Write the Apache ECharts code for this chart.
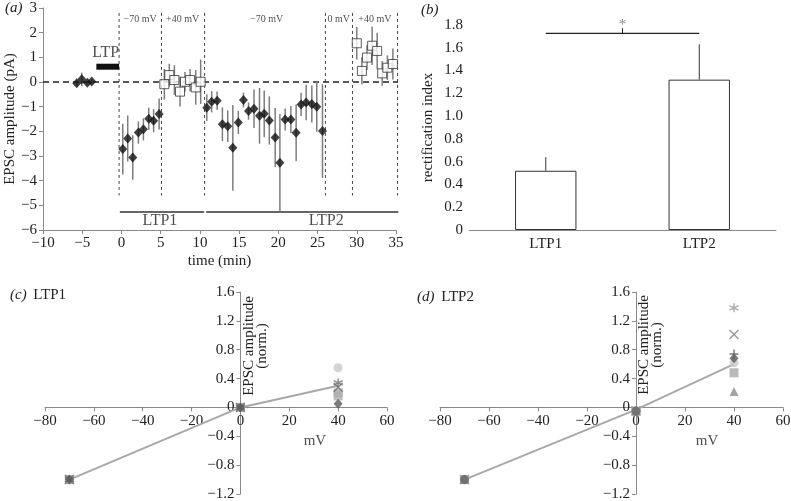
<!DOCTYPE html>
<html><head><meta charset="utf-8">
<script src="https://cdn.jsdelivr.net/npm/echarts@6/dist/echarts.min.js"></script>
<style>html,body{margin:0;padding:0;background:#fff}#c{width:791px;height:501px}</style>
</head><body><div id="c"></div>
<script>
// ---------- Panel (a) data ----------
const baseT = [-5.7, -5.06, -4.35, -3.79];
const baseV = [-0.05, 0.11, -0.03, 0.02];
const baseE = [0.12, 0.27, 0.08, 0.08];
const ltp1NegT = [0.17, 0.8, 1.44, 2.16, 2.8, 3.48, 4.1, 4.8];
const ltp1NegV = [-2.72, -2.29, -3.06, -2.05, -1.92, -1.49, -1.57, -1.30];
const ltp1NegE = [1.03, 0.93, 0.9, 0.45, 0.45, 0.45, 0.47, 0.63];
const ltp1PosT = [5.47, 6.1, 6.75, 7.47, 8.1, 8.75, 9.47, 10.1];
const ltp1PosV = [-0.09, 0.28, 0.08, -0.39, 0.01, 0.08, -0.22, 0.01];
const ltp1PosE = [0.62, 0.46, 0.6, 0.6, 0.4, 0.45, 0.7, 0.9];
const ltp2NegT = [10.88, 11.5, 12.2, 12.87, 13.55, 14.2, 14.9, 15.55, 16.2, 16.9, 17.6, 18.2, 18.85, 19.6, 20.2, 20.87, 21.6, 22.27, 22.9, 23.55, 24.27, 24.9, 25.63];
const ltp2NegV = [-1.04, -0.80, -0.76, -1.71, -1.79, -2.67, -1.64, -0.73, -1.18, -1.08, -1.37, -1.29, -1.56, -2.25, -3.27, -1.52, -1.52, -2.06, -0.91, -0.83, -0.89, -1.0, -1.99];
const ltp2NegE = [0.54, 0.43, 0.37, 0.68, 0.64, 1.74, 0.47, 0.3, 0.35, 0.78, 1.13, 0.95, 0.98, 1.2, 1.97, 0.45, 0.55, 1.15, 0.47, 0.72, 0.75, 1.02, 1.9];
const ltp2PosT = [30.0, 30.65, 31.3, 31.96, 32.6, 33.24, 33.9, 34.6];
const ltp2PosV = [1.57, 0.45, 0.99, 1.47, 1.26, 0.35, 0.58, 0.73];
const ltp2PosE = [0.66, 0.55, 0.5, 0.78, 0.74, 0.5, 0.5, 0.63];
const phaseBounds = [-0.3, 5.1, 10.6, 26.0, 29.45, 35.2];
const phaseSpan = [2.8, -4.6];
const phaseLabels = [[2.4, 2.55, '−70 mV'], [7.8, 2.55, '+40 mV'], [18.5, 2.55, '−70 mV'], [27.7, 2.55, '0 mV'], [32.3, 2.55, '+40 mV']];
const zeroLineRange = [-10, 36.8];
const ltpBar = [-3.2, -0.3, 0.62];
const ltpPeriods = [[-0.2, 10.55, -5.27, 'LTP1', 4.9], [10.8, 35.3, -5.27, 'LTP2', 26.1]];
const aXTicks = {min: -10, max: 35, interval: 5};
const aYTicks = {min: -6, max: 3, interval: 1};

// ---------- Panel (b) data ----------
const bCats = ['LTP1', 'LTP2'];
const bVals = [0.52, 1.32];
const bErr = [0.12, 0.31];
const bSig = [1.727, 0.045];
const bYTicks = {min: 0, max: 1.8, interval: 0.2};

// ---------- Panels (c),(d) data ----------
const mvX = [-70, 0, 40];
const cMean = [-1.0, 0.0, 0.30];
const dMean = [-1.0, -0.03, 0.60];
const cCells = [
  {sym: 'circle', col: '#c8c8c8', v: [-1.0, 0.0, 0.55]},
  {sym: 'rect', col: '#a8a8a8', v: [-1.0, 0.0, 0.20]},
  {sym: 'rect', col: '#b0b0b0', v: [-1.0, 0.0, 0.16]},
  {sym: 'aster', col: '#6a6a6a', v: [-1.0, 0.0, 0.34]},
  {sym: 'x', col: '#707070', v: [-1.0, 0.0, 0.28]},
  {sym: 'diamond', col: '#5a5a5a', v: [-1.0, 0.0, 0.05]}
];
const dCells = [
  {sym: 'aster', col: '#9a9a9a', v: [-1.0, -0.05, 1.38]},
  {sym: 'x', col: '#808080', v: [-1.0, -0.05, 1.01]},
  {sym: 'plus', col: '#5a5a5a', v: [-1.0, -0.05, 0.74]},
  {sym: 'circle', col: '#c8c8c8', v: [-1.0, -0.05, 0.62]},
  {sym: 'diamond', col: '#5a5a5a', v: [-1.0, -0.05, 0.68]},
  {sym: 'rect', col: '#a8a8a8', v: [-1.0, -0.05, 0.48]},
  {sym: 'triangle', col: '#8c8c8c', v: [-1.0, -0.05, 0.22]},
  {sym: 'circle', col: '#6a6a6a', v: [-1.0, -0.05, null]}
];
const ivX = {min: -80, max: 60, interval: 20};
const ivY = {min: -1.2, max: 1.6, interval: 0.4};

// ---------- helpers ----------
const FF = '"Liberation Serif", "Times New Roman", serif';
const TXT = '#222';
const AX = '#8a8a8a';
const minus = s => String(s).replace('-', '−');
const fmtInt = v => minus(v);
const fmt1 = v => (Math.abs(v) < 1e-9 ? '0' : minus(v.toFixed(1)));
const zip3 = (a, b, c) => a.map((x, i) => [x, b[i], c[i]]);
const symPaths = {
  x: 'path://M0,0L10,10M10,0L0,10',
  aster: 'path://M5,0L5,10M0.7,2.5L9.3,7.5M9.3,2.5L0.7,7.5',
  plus: 'path://M5,0L5,10M1,5L9,5'
};

const grids = [
  {left: 43, top: 8, width: 353, height: 222},
  {left: 469, top: 25, width: 307, height: 205},
  {left: 45, top: 292, width: 342, height: 202},
  {left: 440, top: 292, width: 343, height: 202}
];
grids.forEach(g => { g.outerBoundsMode = 'none'; g.containLabel = false; });

function errRender(params, api) {
  const x = api.value(0), y = api.value(1), e = api.value(2);
  const p1 = api.coord([x, y + e]), p2 = api.coord([x, y - e]);
  return {type: 'line', shape: {x1: p1[0], y1: p1[1], x2: p2[0], y2: p2[1]},
          style: {stroke: '#7d7d7d', lineWidth: 1.5}};
}

const chart = echarts.init(document.getElementById('c'), null, {renderer: 'canvas'});

function valueAxis(gi, t, fmt, extra) {
  return Object.assign({
    gridIndex: gi, type: 'value', min: t.min, max: t.max, interval: t.interval,
    splitLine: {show: false},
    axisLine: {onZero: false, lineStyle: {color: AX, width: 1}},
    axisTick: {lineStyle: {color: AX}, length: 4},
    axisLabel: {formatter: fmt, color: TXT, fontFamily: FF, fontSize: 15, margin: 6},
    nameTextStyle: {color: TXT, fontFamily: FF, fontSize: 15}
  }, extra || {});
}

const series = [];
// ---- Panel (a)
series.push({type: 'line', xAxisIndex: 0, yAxisIndex: 0, data: [[zeroLineRange[0], 0], [zeroLineRange[1], 0]],
  symbol: 'none', clip: false, silent: true, z: 1, lineStyle: {type: [6, 4], color: '#222', width: 1.3}});
series.push({type: 'custom', xAxisIndex: 0, yAxisIndex: 0, silent: true, z: 1,
  data: phaseBounds.map(t => [t, phaseSpan[0], phaseSpan[1]]),
  encode: {x: 0, y: 1},
  renderItem: (p, api) => {
    const a = api.coord([api.value(0), api.value(1)]), b = api.coord([api.value(0), api.value(2)]);
    return {type: 'line', shape: {x1: a[0], y1: a[1], x2: b[0], y2: b[1]}, style: {stroke: '#444', lineWidth: 1, lineDash: [3, 3]}};
  }});
series.push({type: 'scatter', xAxisIndex: 0, yAxisIndex: 0, silent: true, symbolSize: 0,
  data: phaseLabels,
  label: {show: true, position: 'inside', formatter: p => p.data[2], color: TXT, fontFamily: FF, fontSize: 10}});
series.push({type: 'line', xAxisIndex: 0, yAxisIndex: 0, silent: true, symbol: 'none',
  data: [[ltpBar[0], ltpBar[2]], [ltpBar[1], ltpBar[2]]], lineStyle: {color: '#111', width: 6}});
series.push({type: 'scatter', xAxisIndex: 0, yAxisIndex: 0, silent: true, symbolSize: 0,
  data: [[-2.0, 1.18, 'LTP']],
  label: {show: true, position: 'inside', formatter: p => p.data[2], color: TXT, fontFamily: FF, fontSize: 16}});
series.push({type: 'custom', xAxisIndex: 0, yAxisIndex: 0, silent: true, clip: false,
  data: ltpPeriods.map(d => [d[0], d[2], d[1], d[4]]),
  encode: {x: 0, y: 1},
  renderItem: (p, api) => {
    const a = api.coord([api.value(0), api.value(1)]), b = api.coord([api.value(2), api.value(1)]);
    return {type: 'line', shape: {x1: a[0], y1: a[1], x2: b[0], y2: b[1]}, style: {stroke: '#333', lineWidth: 1.3}};
  }});
series.push({type: 'scatter', xAxisIndex: 0, yAxisIndex: 0, silent: true, symbolSize: 0,
  data: ltpPeriods.map(d => [d[4], -5.62, d[3]]),
  label: {show: true, position: 'inside', formatter: p => p.data[2], color: TXT, fontFamily: FF, fontSize: 16}});
series.push({type: 'custom', xAxisIndex: 0, yAxisIndex: 0, silent: true, z: 2,
  data: [].concat(zip3(baseT, baseV, baseE), zip3(ltp1NegT, ltp1NegV, ltp1NegE), zip3(ltp1PosT, ltp1PosV, ltp1PosE),
                  zip3(ltp2NegT, ltp2NegV, ltp2NegE), zip3(ltp2PosT, ltp2PosV, ltp2PosE)),
  encode: {x: 0, y: 1}, renderItem: errRender});
series.push({type: 'scatter', xAxisIndex: 0, yAxisIndex: 0, z: 3, symbol: 'diamond', symbolSize: [9, 10],
  itemStyle: {color: '#111'},
  data: [].concat(baseT.map((t, i) => [t, baseV[i]]), ltp1NegT.map((t, i) => [t, ltp1NegV[i]]), ltp2NegT.map((t, i) => [t, ltp2NegV[i]]))});
series.push({type: 'scatter', xAxisIndex: 0, yAxisIndex: 0, z: 3, symbol: 'rect', symbolSize: 9,
  itemStyle: {color: '#fff', borderColor: '#333', borderWidth: 1},
  data: [].concat(ltp1PosT.map((t, i) => [t, ltp1PosV[i]]), ltp2PosT.map((t, i) => [t, ltp2PosV[i]]))});

// ---- Panel (b)
series.push({type: 'bar', xAxisIndex: 1, yAxisIndex: 1, data: bVals, barWidth: '40%',
  itemStyle: {color: '#fff', borderColor: '#333', borderWidth: 1}});
series.push({type: 'custom', xAxisIndex: 1, yAxisIndex: 1, silent: true,
  data: bVals.map((v, i) => [i, v, bErr[i]]), encode: {x: 0, y: 1},
  renderItem: (p, api) => {
    const a = api.coord([api.value(0), api.value(1)]), b = api.coord([api.value(0), api.value(1) + api.value(2)]);
    return {type: 'line', shape: {x1: a[0], y1: a[1], x2: b[0], y2: b[1]}, style: {stroke: '#333', lineWidth: 1}};
  }});
series.push({type: 'custom', xAxisIndex: 1, yAxisIndex: 1, silent: true, clip: false,
  data: [[0, bSig[0], 1, bSig[1]]], encode: {x: 0, y: 1},
  renderItem: (p, api) => {
    const y = api.value(1);
    const a = api.coord([api.value(0), y]), b = api.coord([api.value(2), y]);
    const t = api.coord([api.value(0), y + api.value(3)]);
    const mx = (a[0] + b[0]) / 2;
    return {type: 'group', children: [
      {type: 'line', shape: {x1: a[0], y1: a[1], x2: b[0], y2: b[1]}, style: {stroke: '#222', lineWidth: 1.3}},
      {type: 'line', shape: {x1: mx, y1: a[1], x2: mx, y2: t[1]}, style: {stroke: '#222', lineWidth: 1}},
      {type: 'text', x: mx, y: t[1] - 3, style: {text: '*', fill: '#888', font: '15px ' + FF, align: 'center', verticalAlign: 'middle'}}
    ]};
  }});

// ---- Panels (c),(d)
function ivSeries(ai, mean, cells, mvPos) {
  series.push({type: 'line', xAxisIndex: ai, yAxisIndex: ai, symbol: 'none', z: 2,
    data: mvX.map((x, i) => [x, mean[i]]), lineStyle: {color: '#a8a8a8', width: 2}});
  cells.forEach(c => {
    const isPath = symPaths[c.sym];
    series.push({type: 'scatter', xAxisIndex: ai, yAxisIndex: ai, z: 3,
      symbol: isPath ? symPaths[c.sym] : c.sym,
      symbolSize: isPath ? 9 : (c.sym === 'diamond' ? [9, 10] : 9),
      itemStyle: isPath ? {color: 'rgba(0,0,0,0)', borderColor: c.col, borderWidth: 1.5} : {color: c.col},
      data: mvX.map((x, i) => [x, c.v[i]]).filter(d => d[1] !== null)});
  });
  series.push({type: 'scatter', xAxisIndex: ai, yAxisIndex: ai, silent: true, symbolSize: 0,
    data: [[mvPos, -0.46, 'mV']],
    label: {show: true, position: 'inside', formatter: p => p.data[2], color: TXT, fontFamily: FF, fontSize: 15}});
}
ivSeries(2, cMean, cCells, 30.5);
ivSeries(3, dMean, dCells, 29);

// axes crossing at the origin: shift each axis to the other axis's zero
const ivAxisX = gi => valueAxis(gi, ivX, fmtInt, {
  offset: -((0 - ivY.min) / (ivY.max - ivY.min)) * grids[gi].height});
const ivAxisY = gi => valueAxis(gi, ivY, fmt1, {
  offset: -((0 - ivX.min) / (ivX.max - ivX.min)) * grids[gi].width});

const option = {
  animation: false,
  grid: grids,
  xAxis: [
    valueAxis(0, aXTicks, fmtInt, {name: 'time (min)', nameLocation: 'middle', nameGap: 24}),
    {gridIndex: 1, type: 'category', data: bCats,
     axisLine: {onZero: false, lineStyle: {color: AX}}, axisTick: {alignWithLabel: false, lineStyle: {color: AX}, length: 4},
     axisLabel: {color: TXT, fontFamily: FF, fontSize: 15, margin: 7}},
    ivAxisX(2), ivAxisX(3)
  ],
  yAxis: [
    valueAxis(0, aYTicks, fmtInt, {name: 'EPSC amplitude (pA)', nameLocation: 'middle', nameGap: 24}),
    valueAxis(1, bYTicks, fmt1, {name: 'rectification index', nameLocation: 'middle', nameGap: 33}),
    ivAxisY(2), ivAxisY(3)
  ],
  series: series,
  graphic: [
    {type: 'text', left: 5, top: 1, style: {text: '(a)', font: 'italic 15px ' + FF, fill: TXT}},
    {type: 'text', left: 421, top: 3, style: {text: '(b)', font: 'italic 15px ' + FF, fill: TXT}},
    {type: 'text', left: 10, top: 288, style: {rich: {i: {font: 'italic 15px ' + FF, fill: TXT}, n: {font: '15px ' + FF, fill: TXT}}, text: '{i|(c)}  {n|LTP1}'}},
    {type: 'text', left: 417, top: 290, style: {rich: {i: {font: 'italic 15px ' + FF, fill: TXT}, n: {font: '15px ' + FF, fill: TXT}}, text: '{i|(d)}  {n|LTP2}'}},
    {type: 'text', x: 256, y: 346, rotation: Math.PI / 2, style: {text: 'EPSC amplitude\n(norm.)', font: '15px ' + FF, fill: TXT, align: 'center', verticalAlign: 'middle', lineHeight: 13}},
    {type: 'text', x: 651, y: 345, rotation: Math.PI / 2, style: {text: 'EPSC amplitude\n(norm.)', font: '15px ' + FF, fill: TXT, align: 'center', verticalAlign: 'middle', lineHeight: 13}}
  ]
};
chart.setOption(option);
</script></body></html>
